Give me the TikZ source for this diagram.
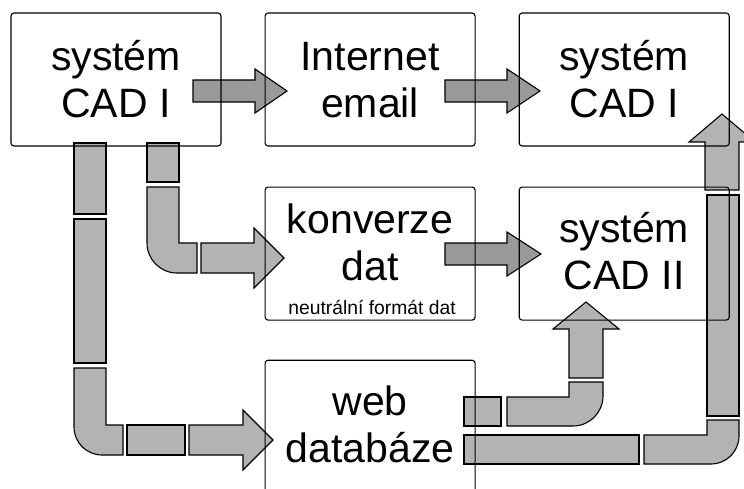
\documentclass[tikz,border=0pt]{standalone}
\usepackage{fontspec}
\setmainfont{Liberation Sans}
\usetikzlibrary{positioning,backgrounds}

\definecolor{pipegray}{HTML}{B3B3B3}
\definecolor{arrowgray}{HTML}{999999}

\tikzset{
  cadbox/.style={draw,rounded corners=3pt,line width=1.1pt,minimum width=210pt,minimum height=133pt,inner sep=0pt,
    align=center,font=\fontsize{41}{47}\selectfont,text height=77pt,text depth=0pt},
  lowtxt/.style={text depth=23pt},
  smalltxt/.style={font=\fontsize{19.3}{22}\selectfont,inner sep=0pt},
  pipe/.style={draw,line width=1.1pt,fill=pipegray},
  darrow/.style={draw,line width=1.1pt,fill=arrowgray}
}

\begin{document}
\begin{tikzpicture}[x=1pt,y=1pt]
  \useasboundingbox (0,0) rectangle (744,488);
  \clip (0,0) rectangle (744,488);

  \node[cadbox] (cadI) at (116,408.5) {systém\\CAD I};
  \node[cadbox,right=43pt of cadI] (inet) {Internet\\email};
  \node[cadbox,right=43pt of inet] (cadIb) {systém\\CAD I};
  \node[cadbox,lowtxt,below=40pt of inet] (konv) {konverze\\dat};
  \node[smalltxt,anchor=base] (neutral) at ([xshift=2pt,yshift=6pt]konv.south) {neutrální formát dat};
  \node[cadbox,text depth=5pt,below=40pt of cadIb] (cadII) {systém\\CAD II};
  \node[cadbox,lowtxt,minimum height=150pt,below=39pt of konv] (web) {web\\databáze};

  \begin{pgfonlayer}{background}
    % e-mail
    \draw[darrow] (193,408) -- (255,408) -- (255,419) -- (287,397) -- (255,375) -- (255,386) -- (193,386) -- cycle;
    \draw[darrow] (445,408) -- (507,408) -- (507,419) -- (540,397) -- (507,375) -- (507,386) -- (445,386) -- cycle;
    \draw[darrow] (445,245) -- (507,245) -- (507,256) -- (541,234) -- (507,212) -- (507,223) -- (445,223) -- cycle;
    % konverze
    \draw[pipe] (147,306) rectangle (179,345);
    \draw[pipe] (147,301) -- (179,301) -- (179,245) -- (197,245) -- (197,215) -- (177,215)
      arc[start angle=270,end angle=180,radius=30] -- cycle;
    \draw[pipe] (201,245) -- (254,245) -- (254,260) -- (284,230) -- (254,200) -- (254,215) -- (201,215) -- cycle;
    % databaze
    \draw[pipe] (74,274) rectangle (106,345);
    \draw[pipe] (74,125) rectangle (106,269);
    \draw[pipe] (74,120) -- (106,120) -- (106,63) -- (123,63) -- (123,33) -- (102,33)
      arc[start angle=270,end angle=180,radius=28] -- cycle;
    \draw[pipe] (127,33) rectangle (185,63);
    \draw[pipe] (189,63) -- (243,63) -- (243,78) -- (273,48) -- (243,18) -- (243,33) -- (189,33) -- cycle;
    % web -> CAD II
    \draw[pipe] (464,62) rectangle (501,91);
    \draw[pipe] (507,91) -- (569,91) -- (569,106) -- (603,106) -- (603,92)
      arc[start angle=0,end angle=-90,radius=30] -- (507,62) -- cycle;
    \draw[pipe] (569,110) -- (603,110) -- (603,159) -- (619,159) -- (586,186) -- (553,159) -- (569,159) -- cycle;
    % web -> CAD I
    \draw[pipe] (464,24) rectangle (639,53);
    \draw[pipe] (644,53) -- (707,53) -- (707,68) -- (739,68) -- (739,52)
      arc[start angle=0,end angle=-90,radius=28] -- (644,24) -- cycle;
    \draw[pipe] (707,72) rectangle (739,293);
    \draw[pipe] (705,298) -- (739,298) -- (739,346) -- (755,346) -- (722,374) -- (689,346) -- (705,346) -- cycle;
  \end{pgfonlayer}
\end{tikzpicture}
\end{document}
